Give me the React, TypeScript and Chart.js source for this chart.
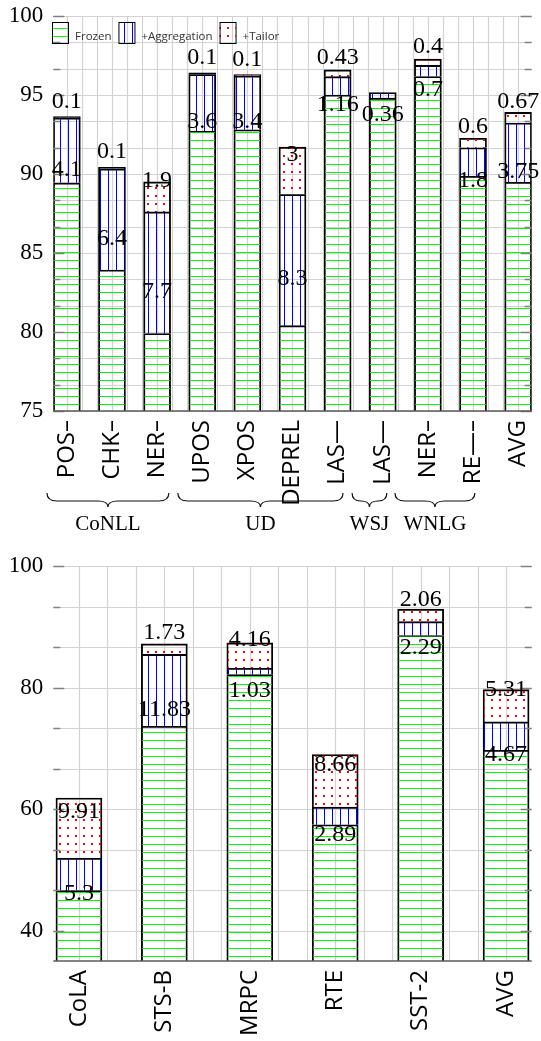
import React, { useEffect, useRef } from 'react';
import { Chart, registerables } from 'chart.js';

Chart.register(...registerables);

// ---------- Top chart data ----------
const topCategories = ['POS–', 'CHK–', 'NER–', 'UPOS', 'XPOS', 'DEPREL', 'LAS—', 'LAS—', 'NER–', 'RE—–', 'AVG'];
const topFrozen = [89.44, 83.92, 79.9, 92.7, 92.8, 80.4, 95.0, 94.8, 96.17, 89.86, 89.48];
const topAggregation = [4.1, 6.4, 7.7, 3.6, 3.4, 8.3, 1.16, 0.36, 0.7, 1.8, 3.75];
const topTailor = [0.1, 0.1, 1.9, 0.1, 0.1, 3, 0.43, 0, 0.4, 0.6, 0.67];
const topYTicks = [75, 80, 85, 90, 95, 100];
const topGroups = ['CoNLL', 'UD', 'WSJ', 'WNLG'];
const topGroupSpans = [
  [-0.44, 2.26],
  [2.46, 6.12],
  [6.32, 7.09],
  [7.27, 9.04],
];

// ---------- Bottom chart data ----------
const bottomCategories = ['CoLA', 'STS-B', 'MRPC', 'RTE', 'SST-2', 'AVG'];
const bottomFrozen = [46.6, 73.63, 82.15, 57.42, 88.55, 69.67];
const bottomAggregation = [5.3, 11.83, 1.03, 2.89, 2.29, 4.67];
const bottomTailor = [9.91, 1.73, 4.16, 8.66, 2.06, 5.31];
const bottomYTicks = [40, 60, 80, 100];

const legendLabels = ['Frozen', '+Aggregation', '+Tailor'];

const SERIF = "'Liberation Serif', 'Times New Roman', serif";
const SANS = "'Open Sans', 'DejaVu Sans', sans-serif";

function makePattern(kind: string): CanvasPattern {
  const c = document.createElement('canvas');
  c.width = 8;
  c.height = 8;
  const g = c.getContext('2d')!;
  if (kind === 'frozen') {
    g.fillStyle = '#00ff00';
    g.fillRect(0, 4, 8, 1);
  } else if (kind === 'agg') {
    g.fillStyle = '#0000ff';
    g.fillRect(4, 0, 1, 8);
  } else {
    g.fillStyle = '#ff0000';
    g.fillRect(3, 3, 2, 2);
  }
  return g.createPattern(c, 'repeat')!;
}

interface Cfg {
  categories: string[];
  frozen: number[];
  agg: number[];
  tailor: number[];
  yMin: number;
  yMax: number;
  yTicks: number[];
  gridStepY: number;
  barThickness: number;
  padTop: number;
  xHeight: number;
  legend: boolean;
  groups?: string[];
  groupSpans?: number[][];
}

function buildChart(canvas: HTMLCanvasElement, cfg: Cfg) {
  const pFrozen = makePattern('frozen');
  const pAgg = makePattern('agg');
  const pTail = makePattern('tail');
  const n = cfg.categories.length;
  const series = [cfg.frozen, cfg.agg, cfg.tailor];
  const pats = [pFrozen, pAgg, pTail];

  const plugin = {
    id: 'decor',
    beforeDatasetsDraw(chart: any) {
      const { ctx, chartArea } = chart;
      const { left, right, top, bottom } = chartArea;
      const x = chart.scales.x;
      const y = chart.scales.y;
      ctx.save();
      ctx.strokeStyle = '#d2d2d2';
      ctx.lineWidth = 1.2;
      ctx.beginPath();
      for (let k = Math.ceil(x.min * 3 - 1e-9); k <= Math.floor(x.max * 3 + 1e-9); k++) {
        const px = Math.round(x.getPixelForValue(k / 3)) + 0.5;
        ctx.moveTo(px, top);
        ctx.lineTo(px, bottom);
      }
      for (let k = 0; ; k++) {
        const v = cfg.yMax - k * cfg.gridStepY;
        if (v < cfg.yMin - 1e-9) break;
        const py = Math.round(y.getPixelForValue(v)) + 0.5;
        ctx.moveTo(left, py);
        ctx.lineTo(right, py);
      }
      ctx.stroke();
      ctx.restore();
    },
    afterDatasetsDraw(chart: any) {
      const { ctx, chartArea } = chart;
      const { left, right, bottom } = chartArea;
      const y = chart.scales.y;
      ctx.save();
      // y tick marks, left and right
      ctx.strokeStyle = '#808080';
      ctx.lineWidth = 1.3;
      ctx.beginPath();
      for (let k = 0; ; k++) {
        const v = cfg.yMax - k * cfg.gridStepY;
        if (v < cfg.yMin - 1e-9) break;
        const isMajor = cfg.yTicks.some((t) => Math.abs(t - v) < 1e-6);
        const len = isMajor ? 11 : 7;
        const py = Math.round(y.getPixelForValue(v)) + 0.5;
        ctx.moveTo(left, py);
        ctx.lineTo(left + len, py);
        ctx.moveTo(right - len, py);
        ctx.lineTo(right, py);
      }
      ctx.stroke();
      // bottom axis line
      ctx.strokeStyle = '#5a5a5a';
      ctx.lineWidth = 1.6;
      ctx.beginPath();
      ctx.moveTo(left, bottom);
      ctx.lineTo(right, bottom);
      ctx.stroke();

      // data labels
      ctx.font = `24px ${SERIF}`;
      ctx.fillStyle = '#000';
      ctx.textAlign = 'center';
      ctx.textBaseline = 'middle';
      [1, 2].forEach((di) => {
        const meta = chart.getDatasetMeta(di);
        meta.data.forEach((el: any, i: number) => {
          const v = series[di][i];
          if (!v) return;
          const p = el.getProps(['x', 'y', 'base'], true);
          const mid = (p.y + p.base) / 2;
          const ty = di === 1 ? mid + 19 : mid - 16;
          ctx.fillText(String(v), p.x, ty);
        });
      });

      // legend
      if (cfg.legend) {
        let lx = 52;
        const ly = 22;
        ctx.font = `11.5px ${SANS}`;
        ctx.textAlign = 'left';
        ctx.textBaseline = 'middle';
        legendLabels.forEach((lab, i) => {
          ctx.fillStyle = pats[i];
          ctx.fillRect(lx, ly, 16, 21);
          ctx.strokeStyle = '#000';
          ctx.lineWidth = 1;
          ctx.strokeRect(lx + 0.5, ly + 0.5, 16, 21);
          ctx.fillStyle = '#333';
          const tx = lx + 23;
          ctx.fillText(lab, tx, ly + 15);
          lx = tx + ctx.measureText(lab).width + 7;
        });
      }
      ctx.restore();
    },
    afterDraw(chart: any) {
      if (!cfg.groups || !cfg.groupSpans) return;
      const { ctx, chartArea } = chart;
      const x = chart.scales.x;
      const b = chartArea.bottom;
      const y0 = b + 82;
      const y1 = b + 90;
      const y2 = b + 96;
      ctx.save();
      ctx.strokeStyle = '#111';
      ctx.lineWidth = 1.2;
      ctx.font = `21px ${SERIF}`;
      ctx.fillStyle = '#000';
      ctx.textAlign = 'center';
      ctx.textBaseline = 'middle';
      cfg.groups.forEach((g, i) => {
        const [a, c] = cfg.groupSpans![i];
        const x1 = x.getPixelForValue(a);
        const x2 = x.getPixelForValue(c);
        const xm = (x1 + x2) / 2;
        const r = Math.min(10, (x2 - x1) / 4);
        ctx.beginPath();
        ctx.moveTo(x1, y0);
        ctx.quadraticCurveTo(x1, y1, x1 + r, y1);
        ctx.lineTo(xm - r, y1);
        ctx.quadraticCurveTo(xm, y1, xm, y2);
        ctx.quadraticCurveTo(xm, y1, xm + r, y1);
        ctx.lineTo(x2 - r, y1);
        ctx.quadraticCurveTo(x2, y1, x2, y0);
        ctx.stroke();
        ctx.fillText(g, xm, b + 113);
      });
      ctx.restore();
    },
  };

  const labelsNames = ['Frozen', '+Aggregation', '+Tailor'];
  return new Chart(canvas, {
    type: 'bar',
    data: {
      datasets: series.map((s, di) => ({
        label: labelsNames[di],
        data: s.map((v, i) => ({ x: i, y: v })),
        backgroundColor: pats[di],
        borderColor: '#000',
        borderWidth: { top: 1.2, left: 1.2, right: 1.2, bottom: 0 },
        borderSkipped: false,
        barThickness: cfg.barThickness,
      })),
    } as any,
    options: {
      animation: false,
      responsive: false,
      maintainAspectRatio: false,
      layout: { padding: { top: cfg.padTop, right: 9.3, left: 0, bottom: 0 } },
      plugins: { legend: { display: false }, tooltip: { enabled: false } },
      scales: {
        x: {
          type: 'linear',
          offset: false,
          min: -0.3,
          max: n - 1 + 0.3,
          stacked: true,
          grid: { display: false, drawTicks: false, offset: false },
          border: { display: false },
          afterBuildTicks: (s: any) => {
            s.ticks = cfg.categories.map((_, i) => ({ value: i }));
          },
          afterFit: (s: any) => {
            s.height = cfg.xHeight;
            s.paddingLeft = 0;
            s.paddingRight = 0;
          },
          ticks: {
            autoSkip: false,
            maxRotation: 90,
            minRotation: 90,
            padding: 9,
            color: '#000',
            font: { family: SANS, size: 24 },
            callback: (_v: any, idx: number) => cfg.categories[idx] ?? '',
          },
        },
        y: {
          type: 'linear',
          min: cfg.yMin,
          max: cfg.yMax,
          stacked: true,
          grid: { display: false, drawTicks: false },
          border: { display: false },
          afterBuildTicks: (s: any) => {
            s.ticks = cfg.yTicks.map((v) => ({ value: v }));
          },
          afterFit: (s: any) => {
            s.width = 53.3;
            s.paddingTop = 0;
            s.paddingBottom = 0;
          },
          ticks: {
            padding: 10,
            color: '#000',
            font: { family: SERIF, size: 23 },
            callback: (v: any) => String(v),
          },
        },
      },
    } as any,
    plugins: [plugin as any],
  });
}

export default function App() {
  const topRef = useRef<HTMLCanvasElement>(null);
  const botRef = useRef<HTMLCanvasElement>(null);

  useEffect(() => {
    const c1 = buildChart(topRef.current!, {
      categories: topCategories,
      frozen: topFrozen,
      agg: topAggregation,
      tailor: topTailor,
      yMin: 75,
      yMax: 100,
      yTicks: topYTicks,
      gridStepY: 5 / 3,
      barThickness: 27,
      padTop: 16,
      xHeight: 133,
      legend: true,
      groups: topGroups,
      groupSpans: topGroupSpans,
    });
    const c2 = buildChart(botRef.current!, {
      categories: bottomCategories,
      frozen: bottomFrozen,
      agg: bottomAggregation,
      tailor: bottomTailor,
      yMin: 35,
      yMax: 100,
      yTicks: bottomYTicks,
      gridStepY: 20 / 3,
      barThickness: 46,
      padTop: 22,
      xHeight: 80,
      legend: false,
    });
    return () => {
      c1.destroy();
      c2.destroy();
    };
  }, []);

  return (
    <div style={{ position: 'absolute', left: 0, top: 0, width: 541, height: 1041, background: '#fff' }}>
      <canvas
        ref={topRef}
        width={541}
        height={544}
        style={{ position: 'absolute', left: 0, top: 0, width: 541, height: 544 }}
      />
      <canvas
        ref={botRef}
        width={541}
        height={497}
        style={{ position: 'absolute', left: 0, top: 544, width: 541, height: 497 }}
      />
    </div>
  );
}
